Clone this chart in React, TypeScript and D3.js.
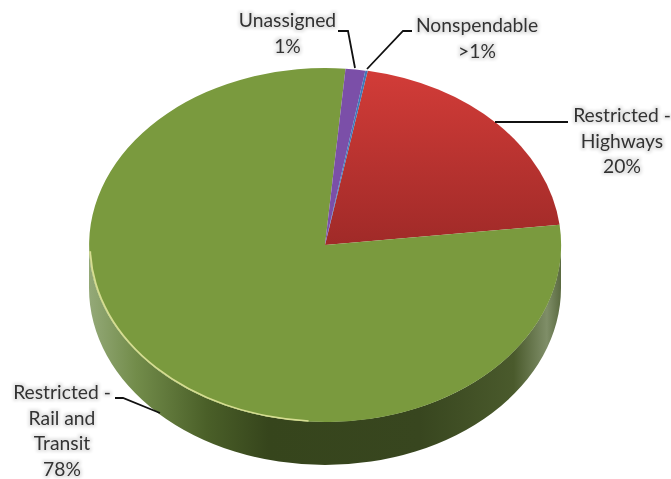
import React from 'react';
import * as d3 from 'd3';

const categories = ['Restricted - Highways', 'Restricted - Rail and Transit', 'Unassigned', 'Nonspendable'];
const shares = [20.3, 78.2, 1.35, 0.15];
const colors = ['#c23532', '#7a9a3e', '#7b4fa8', '#3f78b8'];

const width = 671;
const height = 479;
const cx = 325;
const cy = 245;
const rx = 236;
const ry = 177;
const depth = 43;

const startAngle = (10.4 * Math.PI) / 180;

// Slices are drawn on a unit circle and squashed into the tilted ellipse
const pie = d3.pie<number>().sort(null).startAngle(startAngle).endAngle(startAngle + 2 * Math.PI);
const arc = d3.arc<d3.PieArcDatum<number>>().innerRadius(0).outerRadius(1);
const slices = pie(shares);

// Pale bevel along the lower left edge of the top face
const bevel = d3.arc<any>()
  .innerRadius(0.992)
  .outerRadius(1)
  .startAngle((184 * Math.PI) / 180)
  .endAngle((268 * Math.PI) / 180);

const rimPath = `M${cx - rx},${cy} A${rx},${ry} 0 0 0 ${cx + rx},${cy} L${cx + rx},${cy + depth} A${rx},${ry} 0 0 1 ${cx - rx},${cy + depth} Z`;
const linePath = d3.line();

const labels = [
  { lines: ['Unassigned', '1%'], x: 287.5, y: 27 },
  { lines: ['Nonspendable', '>1%'], x: 477, y: 32 },
  { lines: ['Restricted -', 'Highways', '20%'], x: 622, y: 122 },
  { lines: ['Restricted -', 'Rail and', 'Transit', '78%'], x: 62, y: 399 },
];

const leaders: [number, number][][] = [
  [[338, 31], [348, 31], [355, 68]],
  [[412, 31], [403, 31], [367, 69]],
  [[495, 122], [568, 122]],
  [[115, 398], [123, 398], [160, 413]],
];

export default function App() {
  return (
    <svg width={width} height={height} style={{ position: 'absolute', left: 0, top: 0 }} fontFamily="Lato, 'Open Sans', sans-serif">
      <defs>
        <linearGradient id="rim" x1="0" x2="1" y1="0" y2="0">
          <stop offset="0" stopColor="#94a978" />
          <stop offset="0.1" stopColor="#728c4a" />
          <stop offset="0.25" stopColor="#4a5f28" />
          <stop offset="0.38" stopColor="#36451c" />
          <stop offset="0.7" stopColor="#38461f" />
          <stop offset="0.9" stopColor="#4a5a2c" />
          <stop offset="0.97" stopColor="#7f8e68" />
          <stop offset="1" stopColor="#5a6a40" />
        </linearGradient>
        <linearGradient id="red" x1="0" x2="0" y1="0" y2="1">
          <stop offset="0" stopColor="#d23c38" />
          <stop offset="1" stopColor="#a02a28" />
        </linearGradient>
        <filter id="halo" x="-10%" y="-20%" width="120%" height="140%">
          <feMorphology in="SourceAlpha" operator="dilate" radius="1.5" />
          <feGaussianBlur stdDeviation="1.6" />
          <feComponentTransfer>
            <feFuncA type="linear" slope="0.1" />
          </feComponentTransfer>
          <feMerge>
            <feMergeNode />
            <feMergeNode in="SourceGraphic" />
          </feMerge>
        </filter>
      </defs>
      <path d={rimPath} fill="url(#rim)" />
      <g transform={`translate(${cx},${cy}) scale(${rx},${ry})`}>
        {slices.map((d, i) => (
          <path key={categories[i]} d={arc(d) ?? ''} fill={i === 0 ? 'url(#red)' : colors[i]} />
        ))}
        <path d={bevel({}) ?? ''} fill="#d6dd92" />
      </g>
      {leaders.map((pts, i) => (
        <path key={i} d={linePath(pts) ?? ''} fill="none" stroke="#111" strokeWidth={1.8} />
      ))}
      <g filter="url(#halo)" fill="#333" fontSize={19.3} textAnchor="middle">
        {labels.map(l => (
          <text key={l.lines[0] + l.x} x={l.x} y={l.y}>
            {l.lines.map((t, j) => (
              <tspan key={j} x={l.x} dy={j === 0 ? 0 : 25.5}>
                {t}
              </tspan>
            ))}
          </text>
        ))}
      </g>
    </svg>
  );
}
